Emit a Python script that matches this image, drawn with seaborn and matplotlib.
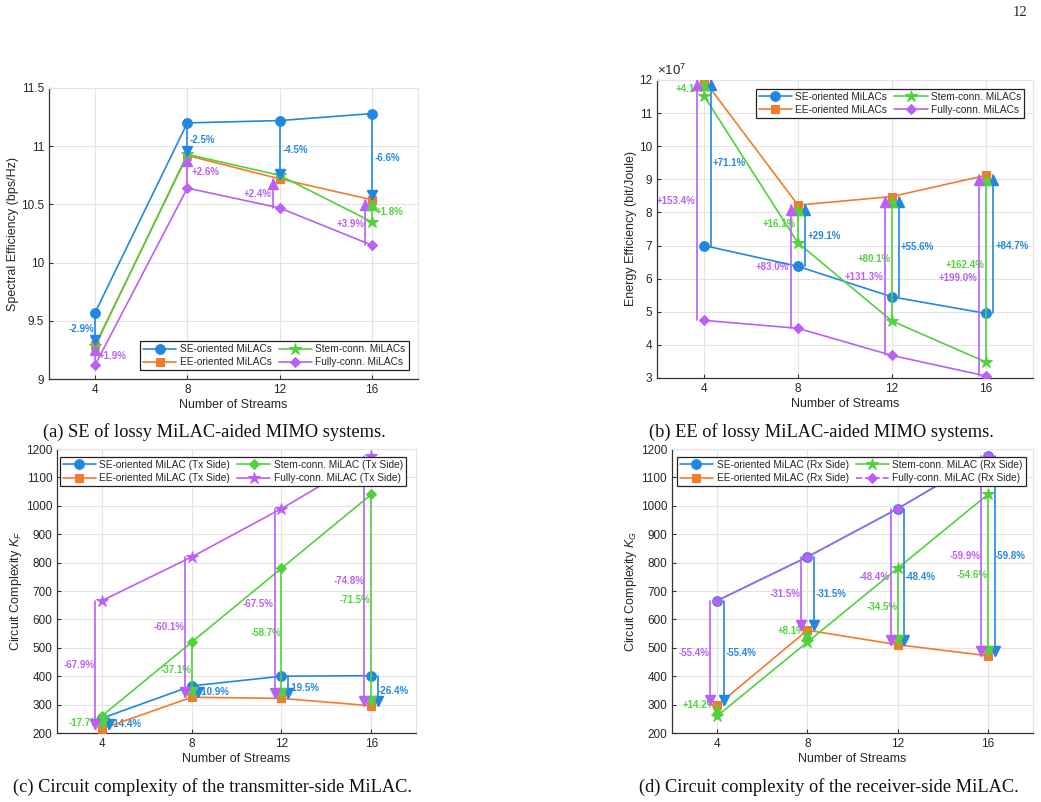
import matplotlib
matplotlib.use('Agg')
import matplotlib.pyplot as plt
from matplotlib.transforms import offset_copy
from matplotlib.ticker import FuncFormatter
import seaborn as sns

sns.set_style('whitegrid')
plt.rcParams['font.family'] = ['Liberation Sans', 'DejaVu Sans']
plt.rcParams['mathtext.fontset'] = 'custom'
plt.rcParams['mathtext.rm'] = 'Liberation Sans'
plt.rcParams['mathtext.it'] = 'Liberation Sans:italic'

BLUE = '#2188e2'
ORANGE = '#f47a2c'
GREEN = '#4fd23a'
PURPLE = '#bb5ff6'

streams = [4, 8, 12, 16]

# (a) spectral efficiency, bps/Hz
a_se = [9.57, 11.20, 11.22, 11.28]
a_ee = [9.29, 10.92, 10.72, 10.54]
a_stem = [9.28, 10.93, 10.75, 10.35]
a_full = [9.12, 10.64, 10.47, 10.15]

# (b) energy efficiency, x1e7 bit/Joule
b_se = [7.00, 6.37, 5.45, 4.95]
b_ee = [12.0, 8.22, 8.48, 9.12]
b_stem = [11.52, 7.08, 4.72, 3.48]
b_full = [4.74, 4.50, 3.68, 3.06]

# (c) circuit complexity, tx side
c_se = [252, 366, 400, 402]
c_ee = [215, 326, 322, 296]
c_stem = [260, 520, 780, 1040]
c_full = [666, 820, 990, 1176]

# (d) circuit complexity, rx side
d_se = [666, 820, 990, 1176]
d_ee = [297, 562, 511, 472]
d_stem = [260, 520, 780, 1040]
d_full = [666, 820, 990, 1176]

# percentage labels
pa_se = ['-2.9%', '-2.5%', '-4.5%', '-6.6%']
pa_full = ['+1.9%', '+2.6%', '+2.4%', '+3.9%']
pa_stem16 = '+1.8%'
pb_se = ['+71.1%', '+29.1%', '+55.6%', '+84.7%']
pb_stem = ['+4.1%', '+16.1%', '+80.1%', '+162.4%']
pb_full = ['+153.4%', '+83.0%', '+131.3%', '+199.0%']
pc_se = ['-14.4%', '-10.9%', '-19.5%', '-26.4%']
pc_stem = ['-17.7%', '-37.1%', '-58.7%', '-71.5%']
pc_full = ['-67.9%', '-60.1%', '-67.5%', '-74.8%']
pd_se = ['-55.4%', '-31.5%', '-48.4%', '-59.8%']
pd_stem = ['+14.2%', '+8.1%', '-34.5%', '-54.6%']
pd_full = ['-55.4%', '-31.5%', '-48.4%', '-59.9%']

# where the labels sit (data coords)
pos_a_se = [(3.42, 9.43), (8.67, 11.05), (12.67, 10.97), (16.67, 10.90)]
pos_a_full = [(4.78, 9.20), (8.78, 10.78), (11.07, 10.59), (15.09, 10.33)]
pos_a_stem16 = (16.78, 10.435)
pos_b_se = [(5.06, 9.49), (9.10, 7.29), (13.06, 6.96), (17.10, 7.00)]
pos_b_stem = [(3.40, 11.73), (7.19, 7.65), (11.23, 6.60), (15.10, 6.40)]
pos_b_full = [(2.80, 8.34), (6.90, 6.35), (10.80, 6.05), (14.80, 6.02)]
pos_c_se = [(5.07, 232), (9.00, 345), (13.00, 357), (17.00, 349)]
pos_c_stem = [(3.20, 236), (7.30, 422), (11.30, 553), (15.30, 668)]
pos_c_full = [(2.98, 440), (6.98, 574), (10.98, 654), (15.00, 735)]
pos_d_se = [(5.06, 483), (9.06, 690), (13.00, 750), (17.00, 823)]
pos_d_stem = [(3.20, 300), (7.30, 560), (11.30, 645), (15.30, 756)]
pos_d_full = [(2.98, 483), (7.03, 690), (10.96, 750), (15.00, 823)]

fig = plt.figure(figsize=(10.41, 8.02), dpi=100)
ax_a = fig.add_axes([0.047, 0.5274, 0.3545, 0.3629])
ax_b = fig.add_axes([0.6311, 0.5287, 0.3612, 0.3716])
ax_c = fig.add_axes([0.0548, 0.0860, 0.3449, 0.3541])
ax_d = fig.add_axes([0.6455, 0.0860, 0.3468, 0.3541])


def series(ax, y, color, marker, ms, label, ls='-'):
    sns.lineplot(x=streams, y=y, ax=ax, color=color, marker=marker, markersize=ms,
                 markeredgecolor=color, linewidth=1.2, linestyle=ls, label=label, zorder=3)


def arrow(ax, x, y0, y1, color):
    ax.plot([x, x], [y0, y1], color=color, lw=1.2, zorder=4)
    up = y1 > y0
    tr = offset_copy(ax.transData, fig=fig, x=0, y=-3.6 if up else 3.6, units='points')
    ax.plot([x], [y1], marker='^' if up else 'v', color=color, ms=7, transform=tr,
            zorder=5, linestyle='none')


def labels(ax, texts, pos, color):
    for t, (x, y) in zip(texts, pos):
        ax.text(x, y, t, color=color, fontsize=7, fontweight='bold',
                ha='center', va='center', zorder=2.5)


def style(ax, ylim, yticks, ylabel, fmt='%g'):
    ax.set_xlim(2, 18)
    ax.set_xticks(streams)
    ax.set_ylim(*ylim)
    ax.set_yticks(yticks)
    ax.yaxis.set_major_formatter(FuncFormatter(lambda v, p: fmt % v))
    ax.grid(True, color='#e4e4e4', lw=0.8)
    ax.set_axisbelow(True)
    for s in ['left', 'bottom']:
        ax.spines[s].set_color('#333333')
        ax.spines[s].set_linewidth(0.9)
    for s in ['top', 'right']:
        ax.spines[s].set_color('#e4e4e4')
        ax.spines[s].set_linewidth(0.8)
    ax.tick_params(direction='in', length=3, color='#333333', labelsize=8.5,
                   labelcolor='#262626', left=True, bottom=True)
    ax.set_xlabel('Number of Streams', fontsize=9, color='#262626', labelpad=2)
    ax.set_ylabel(ylabel, fontsize=9, color='#262626', labelpad=1.5)


def legend(ax, loc, anchor):
    leg = ax.legend(loc=loc, bbox_to_anchor=anchor, ncol=2, fontsize=7.25, handlelength=3.3,
                    columnspacing=0.7, labelspacing=0.3, borderpad=0.3, handletextpad=0.35,
                    borderaxespad=0, numpoints=1, fancybox=False, framealpha=1,
                    edgecolor='#222222')
    leg.get_frame().set_linewidth(0.9)
    leg.set_zorder(10)


# ---- (a) ----
ax = ax_a
series(ax, a_se, BLUE, 'o', 7, 'SE-oriented MiLACs')
series(ax, a_ee, ORANGE, 's', 6, 'EE-oriented MiLACs')
series(ax, a_stem, GREEN, '*', 9, 'Stem-conn. MiLACs')
series(ax, a_full, PURPLE, 'D', 5.5, 'Fully-conn. MiLACs')
for i, x in enumerate(streams):
    arrow(ax, x, a_se[i], a_ee[i], BLUE)
for i, (x, dx) in enumerate(zip(streams, [0, 0, -0.3, -0.3])):
    arrow(ax, x + dx, a_full[i], a_ee[i], PURPLE)
arrow(ax, 16, a_stem[3], a_ee[3], GREEN)
labels(ax, pa_se, pos_a_se, BLUE)
labels(ax, pa_full, pos_a_full, PURPLE)
labels(ax, [pa_stem16], [pos_a_stem16], GREEN)
style(ax, (9, 11.5), [9, 9.5, 10, 10.5, 11, 11.5], 'Spectral Efficiency (bps/Hz)')
legend(ax, 'lower right', (0.975, 0.03))

# ---- (b) ----
ax = ax_b
series(ax, b_se, BLUE, 'o', 7, 'SE-oriented MiLACs')
series(ax, b_ee, ORANGE, 's', 6, 'EE-oriented MiLACs')
series(ax, b_stem, GREEN, '*', 9, 'Stem-conn. MiLACs')
series(ax, b_full, PURPLE, 'D', 5.5, 'Fully-conn. MiLACs')
for i, x in enumerate(streams):
    arrow(ax, x + 0.3, b_se[i], b_ee[i], BLUE)
    arrow(ax, x, b_stem[i], b_ee[i], GREEN)
    arrow(ax, x - 0.3, b_full[i], b_ee[i], PURPLE)
labels(ax, pb_se, pos_b_se, BLUE)
labels(ax, pb_stem, pos_b_stem, GREEN)
labels(ax, pb_full, pos_b_full, PURPLE)
style(ax, (3, 12), list(range(3, 13)), 'Energy Efficiency (bit/Joule)')
ax.text(0.0, 1.005, r'$\times10^7$', transform=ax.transAxes, fontsize=9.5,
        color='#262626', ha='left', va='bottom')
legend(ax, 'upper right', (0.977, 0.97))

# ---- (c) ----
ax = ax_c
series(ax, c_se, BLUE, 'o', 7, 'SE-oriented MiLAC (Tx Side)')
series(ax, c_ee, ORANGE, 's', 6, 'EE-oriented MiLAC (Tx Side)')
series(ax, c_stem, GREEN, 'D', 5.5, 'Stem-conn. MiLAC (Tx Side)')
series(ax, c_full, PURPLE, '*', 9, 'Fully-conn. MiLAC (Tx Side)')
for i, x in enumerate(streams):
    arrow(ax, x + 0.3, c_se[i], c_ee[i], BLUE)
    arrow(ax, x, c_stem[i], c_ee[i], GREEN)
    arrow(ax, x - 0.3, c_full[i], c_ee[i], PURPLE)
labels(ax, pc_se, pos_c_se, BLUE)
labels(ax, pc_stem, pos_c_stem, GREEN)
labels(ax, pc_full, pos_c_full, PURPLE)
style(ax, (200, 1200), list(range(200, 1201, 100)), r'Circuit Complexity $K_F$')
legend(ax, 'upper right', (0.972, 0.972))

# ---- (d) ----
ax = ax_d
series(ax, d_se, BLUE, 'o', 7, 'SE-oriented MiLAC (Rx Side)')
series(ax, d_ee, ORANGE, 's', 6, 'EE-oriented MiLAC (Rx Side)')
series(ax, d_stem, GREEN, '*', 9, 'Stem-conn. MiLAC (Rx Side)')
series(ax, d_full, PURPLE, 'D', 5.5, 'Fully-conn. MiLAC (Rx Side)', ls='--')
for i, x in enumerate(streams):
    arrow(ax, x + 0.3, d_se[i], d_ee[i], BLUE)
    arrow(ax, x, d_stem[i], d_ee[i], GREEN)
    arrow(ax, x - 0.3, d_full[i], d_ee[i], PURPLE)
labels(ax, pd_se, pos_d_se, BLUE)
labels(ax, pd_stem, pos_d_stem, GREEN)
labels(ax, pd_full, pos_d_full, PURPLE)
style(ax, (200, 1200), list(range(200, 1201, 100)), r'Circuit Complexity $K_G$')
legend(ax, 'upper right', (0.98, 0.972))

# captions and page number
cap = dict(fontsize=13.2, family='Liberation Serif', ha='center', va='center', color='#111111')
fig.text(0.2056, 0.4613, '(a) SE of lossy MiLAC-aided MIMO systems.', **cap)
fig.text(0.789, 0.4613, '(b) EE of lossy MiLAC-aided MIMO systems.', **cap)
fig.text(0.204, 0.0187, '(c) Circuit complexity of the transmitter-side MiLAC.', **cap)
fig.text(0.796, 0.0187, '(d) Circuit complexity of the receiver-side MiLAC.', **cap)
fig.text(0.98, 0.985, '12', fontsize=10.5, family='Liberation Serif', ha='center', va='center')

fig.savefig('out.png', dpi=100)
